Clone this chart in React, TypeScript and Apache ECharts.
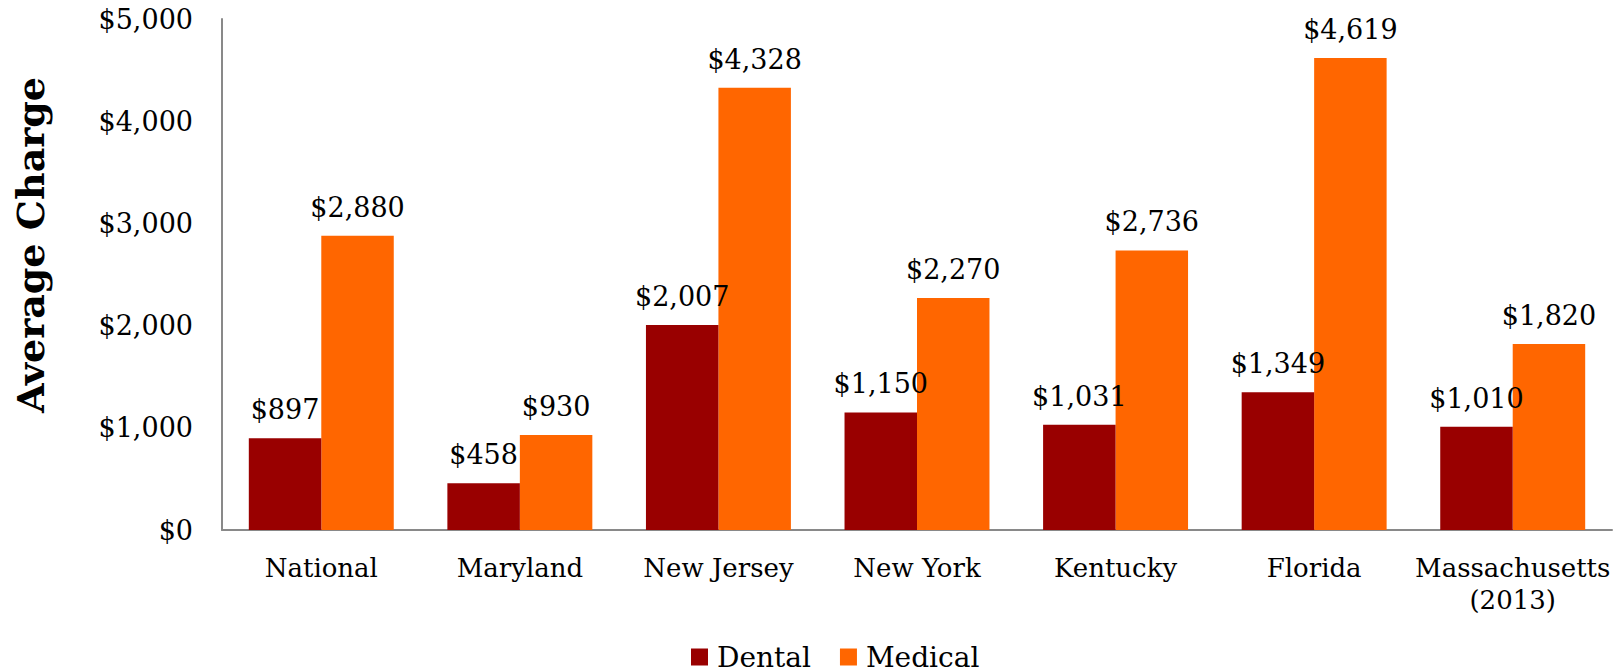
import React, { useEffect, useRef } from "react";
import * as echarts from "echarts";

const categories = ["National", "Maryland", "New Jersey", "New York", "Kentucky", "Florida", "Massachusetts\n(2013)"];
const dental = [897, 458, 2007, 1150, 1031, 1349, 1010];
const medical = [2880, 930, 4328, 2270, 2736, 4619, 1820];
const seriesNames = ["Dental", "Medical"];
const colors = ["#990000", "#FF6600"];
const yMax = 5000;
const yInterval = 1000;
const yTitle = "Average Charge";

const FONT = "DejaVu Serif";

const fmt = (v: number) => "$" + v.toLocaleString("en-US");

export default function App() {
  const ref = useRef<HTMLDivElement>(null);
  useEffect(() => {
    document.body.style.margin = "0";
    if (!ref.current) return;
    const chart = echarts.init(ref.current, null, { renderer: "svg" });
    const label = {
      show: true,
      position: "top",
      distance: 15,
      color: "#000",
      fontFamily: FONT,
      fontSize: 27,
      formatter: (p: any) => fmt(p.value),
    };
    chart.setOption({
      animation: false,
      color: colors,
      textStyle: { fontFamily: FONT, color: "#000" },
      grid: { left: 222, right: 8, top: 19, bottom: 142, containLabel: false },
      legend: {
        data: seriesNames,
        top: 643,
        left: 691,
        padding: 0,
        itemWidth: 17,
        itemHeight: 17,
        itemGap: 29,
        icon: "rect",
        textStyle: { fontFamily: FONT, fontSize: 28, lineHeight: 28, color: "#000", padding: [0, 0, 0, 4] },
      },
      graphic: [
        {
          type: "text",
          x: 30,
          y: 245,
          rotation: Math.PI / 2,
          style: {
            text: yTitle,
            fontFamily: FONT,
            fontWeight: "bold",
            fontSize: 38,
            fill: "#000",
            textAlign: "center",
            textVerticalAlign: "middle",
          },
        },
      ],
      xAxis: {
        type: "category",
        data: categories,
        axisLine: { show: true, lineStyle: { color: "#898989", width: 2 } },
        axisTick: { show: false },
        axisLabel: { color: "#000", fontFamily: FONT, fontSize: 26, margin: 22, lineHeight: 32, interval: 0 },
      },
      yAxis: {
        type: "value",
        min: 0,
        max: yMax,
        interval: yInterval,
        axisLine: { show: true, lineStyle: { color: "#898989", width: 2 } },
        axisTick: { show: false },
        splitLine: { show: false },
        axisLabel: {
          color: "#000",
          fontFamily: FONT,
          fontSize: 27,
          margin: 29,
          formatter: (v: number) => fmt(v),
        },
      },
      series: [
        {
          name: seriesNames[0],
          type: "bar",
          data: dental,
          barGap: "0%",
          barCategoryGap: "27%",
          label,
          z: 3,
        },
        {
          name: seriesNames[1],
          type: "bar",
          data: medical,
          barGap: "0%",
          barCategoryGap: "27%",
          label,
          z: 2,
        },
      ],
    });
    return () => chart.dispose();
  }, []);
  return <div ref={ref} style={{ width: 1620, height: 672 }} />;
}
